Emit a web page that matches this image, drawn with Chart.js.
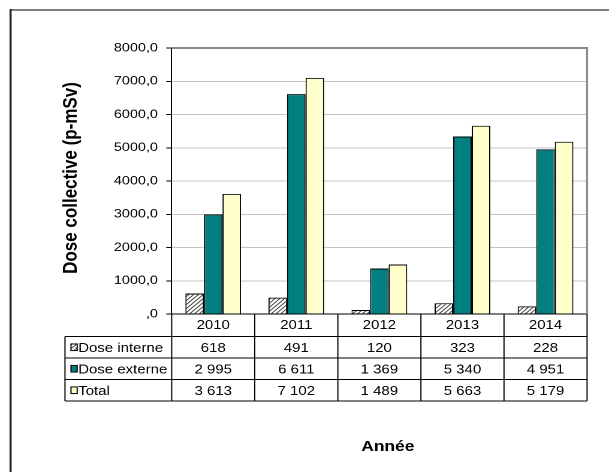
<!DOCTYPE html>
<html lang="fr">
<head>
<meta charset="utf-8">
<title>Dose collective</title>
<script src="https://cdn.jsdelivr.net/npm/chart.js@4/dist/chart.umd.min.js"></script>
<style>
  html, body { margin: 0; padding: 0; background: #ffffff; overflow: hidden; }
  #wrap { width: 508px; height: 472px; transform: scaleX(1.19882); transform-origin: 0 0; }
  canvas { display: block; }
</style>
</head>
<body>
<div id="wrap"><canvas id="c" width="508" height="472"></canvas></div>
<script>
// Collective dose per year (p-mSv)
const years = ['2010', '2011', '2012', '2013', '2014'];
const doseInterne = [618, 491, 120, 323, 228];
const doseExterne = [2995, 6611, 1369, 5340, 4951];
const doseTotal = [3613, 7102, 1489, 5663, 5179];
const seriesNames = ['Dose interne', 'Dose externe', 'Total'];
const yTicks = [0, 1000, 2000, 3000, 4000, 5000, 6000, 7000, 8000];

const FONT = "'Liberation Sans', Arial, sans-serif";

// diagonal hatch used for the internal dose bars
function makeHatch() {
  const c = document.createElement('canvas');
  c.width = 8; c.height = 8;
  const g = c.getContext('2d');
  g.fillStyle = '#ffffff';
  g.fillRect(0, 0, 8, 8);
  g.strokeStyle = '#3a3a3a';
  g.lineWidth = 1.6;
  g.beginPath();
  g.moveTo(-2, 10); g.lineTo(10, -2);
  g.moveTo(-2, 2); g.lineTo(2, -2);
  g.moveTo(6, 10); g.lineTo(10, 6);
  g.stroke();
  const p = g.createPattern(c, 'repeat');
  p.setTransform(new DOMMatrix().scale(0.5));
  return p;
}
const hatch = makeHatch();
const fills = [hatch, '#008080', '#ffffcc'];

function fmtThousands(v) {
  return String(v).replace(/\B(?=(\d{3})+(?!\d))/g, ' ');
}

// frame, data table under the axis and axis titles
const tablePlugin = {
  id: 'dataTable',
  afterDraw(chart) {
    const { ctx, chartArea: a, scales: { x } } = chart;
    const rows = [doseInterne, doseExterne, doseTotal];
    const catW = x.getPixelForValue(1) - x.getPixelForValue(0);
    const rowH = 21.5;
    const headBottom = a.bottom + 22.5;
    const tableBottom = headBottom + rowH * rows.length;
    const tableLeft = 54.2;

    ctx.save();
    // outer frame
    ctx.strokeStyle = '#808080';
    ctx.lineWidth = 2;
    ctx.beginPath(); ctx.moveTo(8, 10); ctx.lineTo(508, 10); ctx.stroke();
    ctx.strokeStyle = '#1a1a1a';
    ctx.lineWidth = 1.7;
    ctx.beginPath(); ctx.moveTo(8.8, 9); ctx.lineTo(8.8, 472); ctx.stroke();

    // plot area top / right border
    ctx.strokeStyle = '#8a8a8a';
    ctx.lineWidth = 2;
    ctx.beginPath(); ctx.moveTo(a.left, a.top); ctx.lineTo(a.right, a.top); ctx.stroke();
    ctx.lineWidth = 1.7;
    ctx.beginPath(); ctx.moveTo(a.right, a.top - 1); ctx.lineTo(a.right, a.bottom); ctx.stroke();

    // table grid
    ctx.strokeStyle = '#000000';
    ctx.lineWidth = 1;
    ctx.beginPath();
    for (let i = 0; i <= years.length; i++) {
      const bx = x.getPixelForValue(0) - catW / 2 + i * catW;
      ctx.moveTo(bx, a.bottom); ctx.lineTo(bx, tableBottom);
    }
    for (let r = 0; r <= rows.length; r++) {
      const ry = headBottom + r * rowH;
      ctx.moveTo(tableLeft, ry); ctx.lineTo(a.right, ry);
    }
    ctx.moveTo(tableLeft, headBottom); ctx.lineTo(tableLeft, tableBottom);
    ctx.stroke();

    // table body
    ctx.fillStyle = '#000000';
    ctx.font = '12.5px ' + FONT;
    ctx.textBaseline = 'alphabetic';
    rows.forEach((vals, r) => {
      const cy = headBottom + r * rowH + rowH / 2;
      const base = cy + 4.6;
      ctx.textAlign = 'center';
      vals.forEach((v, i) => {
        ctx.fillText(fmtThousands(v), x.getPixelForValue(i), base);
      });
      // legend key
      const kx = 59.2, kw = 5.2, kh = 6.6;
      ctx.fillStyle = fills[r];
      ctx.fillRect(kx, cy - kh / 2, kw, kh);
      ctx.strokeStyle = '#000000';
      ctx.strokeRect(kx, cy - kh / 2, kw, kh);
      ctx.fillStyle = '#000000';
      ctx.textAlign = 'left';
      ctx.fillText(seriesNames[r], 65.2, base);
    });

    // axis titles
    ctx.font = 'bold 14.5px ' + FONT;
    ctx.textAlign = 'center';
    ctx.fillText('Année', 323.5, 451);

    ctx.save();
    ctx.translate(59.5, 178);
    ctx.rotate(-Math.PI / 2);
    ctx.font = 'bold 17px ' + FONT;
    ctx.textBaseline = 'middle';
    ctx.fillText('Dose collective (p-mSv)', 0, 0);
    ctx.restore();

    ctx.restore();
  }
};

new Chart(document.getElementById('c'), {
  type: 'bar',
  data: {
    labels: years,
    datasets: [
      { label: seriesNames[0], data: doseInterne, backgroundColor: fills[0] },
      { label: seriesNames[1], data: doseExterne, backgroundColor: fills[1] },
      { label: seriesNames[2], data: doseTotal, backgroundColor: fills[2] }
    ]
  },
  options: {
    responsive: false,
    animation: false,
    devicePixelRatio: 2,
    layout: { padding: { left: 0, right: 18.3, top: 48, bottom: 0 } },
    datasets: {
      bar: {
        categoryPercentage: 0.67,
        barPercentage: 1.0,
        borderColor: '#000000',
        borderWidth: 1
      }
    },
    plugins: {
      legend: { display: false },
      title: { display: false },
      tooltip: { enabled: false }
    },
    scales: {
      x: {
        afterFit(s) { s.height = 158; },
        grid: { display: false, drawTicks: false, tickLength: 0 },
        border: { display: true, color: '#000000', width: 1 },
        ticks: {
          color: '#000000',
          font: { family: FONT, size: 12.5 },
          padding: 4,
          maxRotation: 0,
          autoSkip: false
        }
      },
      y: {
        min: 0,
        max: 8000,
        afterFit(s) { s.width = 143.2; },
        afterBuildTicks(s) { s.ticks = yTicks.map(v => ({ value: v })); },
        grid: {
          color: '#c4c4c4',
          lineWidth: 1,
          drawTicks: true,
          tickLength: 4.5,
          tickColor: '#000000'
        },
        border: { display: true, color: '#000000', width: 1 },
        ticks: {
          color: '#000000',
          font: { family: FONT, size: 12 },
          padding: 7,
          callback: v => (v === 0 ? ',0' : v.toFixed(1).replace('.', ','))
        }
      }
    }
  },
  plugins: [tablePlugin]
});
</script>
</body>
</html>
